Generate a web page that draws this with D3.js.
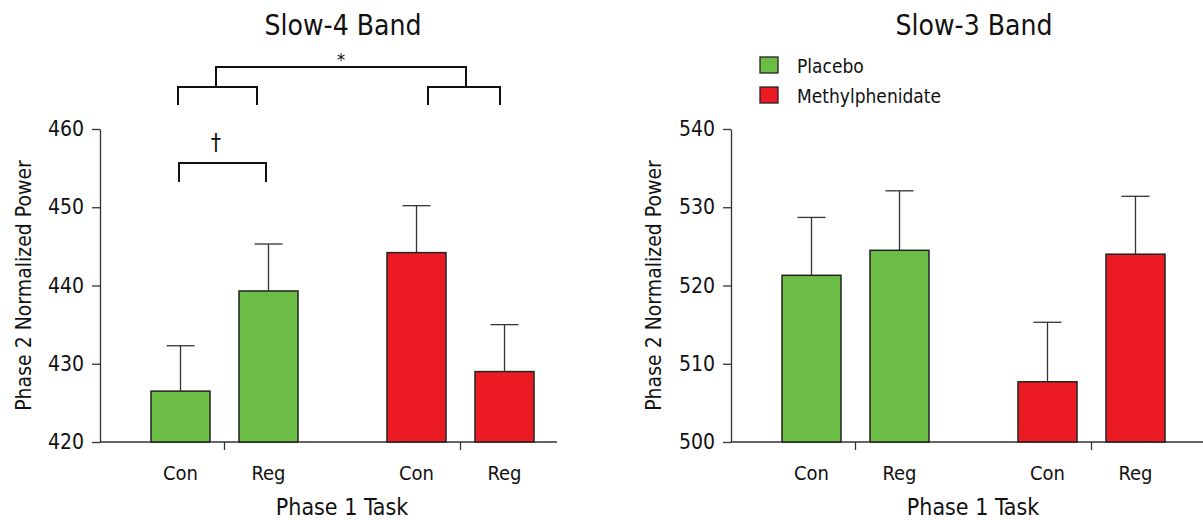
<!DOCTYPE html>
<html>
<head>
<meta charset="utf-8">
<script src="https://cdn.jsdelivr.net/npm/d3@7"></script>
<style>
    body { margin: 0; background: #fff; }
    svg text { font-family: "Liberation Sans Narrow", "DejaVu Sans Condensed", "Roboto Condensed", sans-serif; fill: #111; }
</style>
</head>
<body>
<svg id="canvas" width="1203" height="520"></svg>
<script>
// data
var groups = ["Placebo", "Methylphenidate"];
var tasks = ["Con", "Reg"];
var colors = ["#6bbd45", "#ed1c24"];

var slow4Means = [[426.5, 439.3], [444.2, 429.0]];
var slow4Upper = [[432.3, 445.3], [450.2, 435.0]];
var slow4Ticks = [420, 430, 440, 450, 460];

var slow3Means = [[521.3, 524.5], [507.7, 524.0]];
var slow3Upper = [[528.7, 532.1], [515.3, 531.4]];
var slow3Ticks = [500, 510, 520, 530, 540];

var svg = d3.select("#canvas");

function drawPanel(opts) {
    var g = svg.append("g").attr("transform", "translate(" + opts.left + ",0)");
    var top = 129, bottom = 442;

    var y = d3.scaleLinear().domain(opts.domain).range([bottom, top]);
    var xGroup = d3.scalePoint().domain(groups).range([124.5, 360.5]);
    var xTask = d3.scalePoint().domain(tasks).range([-44, 44]);
    var barW = 59;

    // title
    g.append("text")
        .attr("x", 243).attr("y", 35)
        .attr("text-anchor", "middle")
        .style("font-size", "28px")
        .text(opts.title);

    // y axis
    var yAxis = d3.axisLeft(y).tickValues(opts.ticks).tickSize(8).tickSizeOuter(0).tickPadding(8);
    var ya = g.append("g").call(yAxis);
    ya.select(".domain").attr("stroke", "#333").attr("stroke-width", 1.3);
    ya.selectAll(".tick line").attr("stroke", "#333").attr("stroke-width", 1.3);
    ya.selectAll(".tick text").style("font-size", "21px").attr("fill", "#111");

    g.append("text")
        .attr("transform", "translate(" + (opts.labelX) + "," + ((top + bottom) / 2) + ") rotate(-90)")
        .attr("text-anchor", "middle")
        .style("font-size", "21px")
        .text("Phase 2 Normalized Power");

    // x axis baseline
    g.append("line")
        .attr("x1", 0).attr("x2", opts.axisEnd)
        .attr("y1", bottom).attr("y2", bottom)
        .attr("stroke", "#333").attr("stroke-width", 1.3);
    groups.forEach(function (gr) {
        g.append("line")
            .attr("x1", xGroup(gr)).attr("x2", xGroup(gr))
            .attr("y1", bottom).attr("y2", bottom + 8)
            .attr("stroke", "#333").attr("stroke-width", 1.3);
    });

    groups.forEach(function (gr, gi) {
        tasks.forEach(function (t, ti) {
            var cx = xGroup(gr) + xTask(t);
            var v = opts.means[gi][ti];
            var u = opts.upper[gi][ti];
            // error bar (upper only)
            g.append("line")
                .attr("x1", cx).attr("x2", cx)
                .attr("y1", y(v)).attr("y2", y(u))
                .attr("stroke", "#333").attr("stroke-width", 1.3);
            g.append("line")
                .attr("x1", cx - 14).attr("x2", cx + 14)
                .attr("y1", y(u)).attr("y2", y(u))
                .attr("stroke", "#333").attr("stroke-width", 1.3);
            g.append("rect")
                .attr("x", cx - barW / 2)
                .attr("y", y(v))
                .attr("width", barW)
                .attr("height", bottom - y(v))
                .attr("fill", colors[gi])
                .attr("stroke", "#222")
                .attr("stroke-width", 1.5);
            g.append("text")
                .attr("x", cx).attr("y", 480)
                .attr("text-anchor", "middle")
                .style("font-size", "20px")
                .text(t);
        });
    });

    g.append("text")
        .attr("x", 242).attr("y", 515)
        .attr("text-anchor", "middle")
        .style("font-size", "23px")
        .text("Phase 1 Task");

    return {g: g, y: y, xGroup: xGroup, xTask: xTask};
}

var left = drawPanel({
    left: 100, title: "Slow-4 Band", domain: [420, 460], ticks: slow4Ticks,
    means: slow4Means, upper: slow4Upper, labelX: -69, axisEnd: 457
});

var right = drawPanel({
    left: 731, title: "Slow-3 Band", domain: [500, 540], ticks: slow3Ticks,
    means: slow3Means, upper: slow3Upper, labelX: -70, axisEnd: 480
});

// significance brackets on the Slow-4 panel
function bracket(g, x1, x2, yTop, drop) {
    g.append("path")
        .attr("d", "M" + x1 + "," + (yTop + drop) + "V" + yTop + "H" + x2 + "V" + (yTop + drop))
        .attr("fill", "none").attr("stroke", "#111").attr("stroke-width", 2);
}
var lg = left.g;
bracket(lg, 78, 157, 87, 18);
bracket(lg, 328, 400, 87, 18);
bracket(lg, 116, 366, 67, 19);
lg.append("text").attr("x", 241).attr("y", 66).attr("text-anchor", "middle")
    .style("font-size", "18px").text("*");
bracket(lg, 79, 166, 163, 19);
lg.append("text").attr("x", 116).attr("y", 150).attr("text-anchor", "middle")
    .style("font-size", "23px").text("†");

// legend
var legend = svg.append("g").attr("transform", "translate(760,57)");
groups.forEach(function (gr, i) {
    legend.append("rect")
        .attr("x", 0).attr("y", i * 30)
        .attr("width", 18).attr("height", 16)
        .attr("fill", colors[i]).attr("stroke", "#222").attr("stroke-width", 1.3);
    legend.append("text")
        .attr("x", 37).attr("y", i * 30 + 16)
        .style("font-size", "19px")
        .text(gr);
});
</script>
</body>
</html>
